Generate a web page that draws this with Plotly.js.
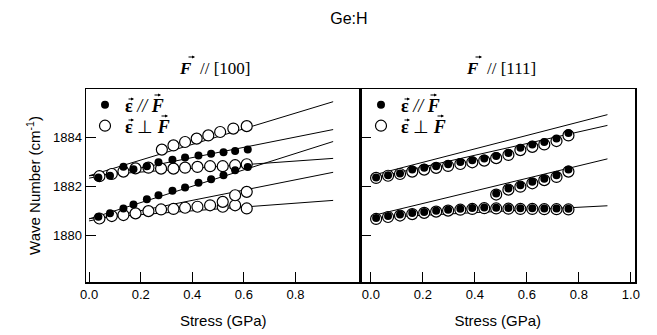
<!DOCTYPE html>
<html>
<head>
<meta charset="utf-8">
<script src="https://cdn.plot.ly/plotly-3.0.1.min.js"></script>
<style>html,body{margin:0;padding:0;background:#fff;}#chart{width:657px;height:335px;}</style>
</head>
<body>
<div id="chart"></div>
<script>
// ---------- data: F // [100] (left panel) ----------
const x100Filled = [0.036, 0.081, 0.133, 0.172, 0.224, 0.269, 0.323, 0.372, 0.424, 0.473, 0.521, 0.566, 0.615];
const x100Open   = [0.040, 0.088, 0.133, 0.180, 0.230, 0.279, 0.327, 0.372, 0.420, 0.469, 0.518, 0.566, 0.611];
const upperFilled100 = [1882.38, 1882.45, 1882.82, 1882.72, 1882.84, 1883.00, 1883.10, 1883.20, 1883.28, 1883.35, 1883.41, 1883.46, 1883.52];
const upperOpenFlat100 = [1882.43, 1882.52, 1882.62, 1882.75, 1882.78, 1882.74, 1882.74, 1882.78, 1882.81, 1882.84, 1882.84, 1882.88, 1882.92];
const xUpperOpenSteep100 = [0.282, 0.327, 0.372, 0.417, 0.462, 0.508, 0.559, 0.611];
const upperOpenSteep100 = [1883.52, 1883.69, 1883.83, 1883.97, 1884.10, 1884.24, 1884.38, 1884.48];
const lowerFilled100 = [1880.77, 1880.91, 1881.11, 1881.27, 1881.49, 1881.65, 1881.83, 1881.97, 1882.16, 1882.31, 1882.47, 1882.67, 1882.81];
const lowerOpenFlat100 = [1880.70, 1880.80, 1880.84, 1880.91, 1881.00, 1881.07, 1881.09, 1881.14, 1881.18, 1881.24, 1881.18, 1881.24, 1881.11];
const xLowerOpenMid100 = [0.518, 0.566, 0.611];
const lowerOpenMid100 = [1881.38, 1881.65, 1881.79];
// fitted lines [start, end]
const fitX100 = [0, 0.946];
const fitA100 = [1882.45, 1885.48];
const fitB100 = [1882.35, 1884.34];
const fitC100 = [1882.45, 1883.16];
const fitD100 = [1880.68, 1883.85];
const fitE100 = [1880.60, 1882.59];
const fitF100 = [1880.70, 1881.44];

// ---------- data: F // [111] (right panel) ----------
const x111 = [0.02, 0.066, 0.112, 0.159, 0.205, 0.251, 0.297, 0.344, 0.39, 0.436, 0.482, 0.529, 0.575, 0.621, 0.667, 0.714, 0.76];
const upperFilled111 = [1882.38, 1882.47, 1882.54, 1882.70, 1882.78, 1882.84, 1882.92, 1883.01, 1883.08, 1883.16, 1883.26, 1883.38, 1883.60, 1883.73, 1883.83, 1883.97, 1884.20];
const upperOpen111   = [1882.36, 1882.45, 1882.52, 1882.62, 1882.70, 1882.77, 1882.85, 1882.93, 1883.00, 1883.07, 1883.17, 1883.30, 1883.50, 1883.63, 1883.73, 1883.87, 1884.10];
const lowerFilled111 = [1880.72, 1880.80, 1880.86, 1880.92, 1880.97, 1881.02, 1881.06, 1881.10, 1881.13, 1881.15, 1881.14, 1881.13, 1881.12, 1881.12, 1881.11, 1881.11, 1881.10];
const lowerOpen111   = [1880.68, 1880.76, 1880.82, 1880.88, 1880.93, 1880.98, 1881.02, 1881.06, 1881.09, 1881.12, 1881.11, 1881.10, 1881.09, 1881.09, 1881.08, 1881.08, 1881.07];
const xRise111 = [0.482, 0.529, 0.575, 0.621, 0.667, 0.714, 0.76];
const riseFilled111 = [1881.72, 1881.93, 1882.06, 1882.20, 1882.33, 1882.47, 1882.70];
const riseOpen111   = [1881.68, 1881.88, 1882.00, 1882.14, 1882.27, 1882.40, 1882.62];
const fitX111 = [0, 0.91];
const fitU1_111 = [1882.45, 1884.95];
const fitU2_111 = [1882.33, 1884.51];
const fitR111 = [1880.80, 1883.14];
const fitL111 = [1880.72, 1881.22];

const yTicks = [1880, 1882, 1884];
const xTicks100 = [0, 0.2, 0.4, 0.6, 0.8];
const xTicks111 = [0, 0.2, 0.4, 0.6, 0.8, 1.0];

const legFilled = '<b>\u03B5</b> <i>//</i> <b><i>F</i></b>';
const legOpen = '<b>\u03B5</b> \u22A5 <b><i>F</i></b>';

function lineTrace(xs, ys, xa, ya) {
  return {x: xs, y: ys, xaxis: xa, yaxis: ya, mode: 'lines', type: 'scatter',
          line: {color: '#000', width: 1}, showlegend: false, hoverinfo: 'skip'};
}
function openTrace(xs, ys, xa, ya, show, leg) {
  return {x: xs, y: ys, xaxis: xa, yaxis: ya, mode: 'markers', type: 'scatter',
          marker: {symbol: 'circle', size: 11, color: '#fff', line: {color: '#000', width: 1.2}},
          name: legOpen, showlegend: show, legend: leg};
}
function filledTrace(xs, ys, xa, ya, show, leg) {
  return {x: xs, y: ys, xaxis: xa, yaxis: ya, mode: 'markers', type: 'scatter',
          marker: {symbol: 'circle', size: 8, color: '#000', line: {color: '#000', width: 0}},
          name: legFilled, showlegend: show, legend: leg};
}

const traces = [
  lineTrace(fitX100, fitA100, 'x', 'y'),
  lineTrace(fitX100, fitB100, 'x', 'y'),
  lineTrace(fitX100, fitC100, 'x', 'y'),
  lineTrace(fitX100, fitD100, 'x', 'y'),
  lineTrace(fitX100, fitE100, 'x', 'y'),
  lineTrace(fitX100, fitF100, 'x', 'y'),
  lineTrace(fitX111, fitU1_111, 'x2', 'y2'),
  lineTrace(fitX111, fitU2_111, 'x2', 'y2'),
  lineTrace(fitX111, fitR111, 'x2', 'y2'),
  lineTrace(fitX111, fitL111, 'x2', 'y2'),
  openTrace(x100Open, upperOpenFlat100, 'x', 'y', true, 'legend2'),
  openTrace(xUpperOpenSteep100, upperOpenSteep100, 'x', 'y', false, 'legend2'),
  openTrace(x100Open, lowerOpenFlat100, 'x', 'y', false, 'legend2'),
  openTrace(xLowerOpenMid100, lowerOpenMid100, 'x', 'y', false, 'legend2'),
  filledTrace(x100Filled, upperFilled100, 'x', 'y', true, 'legend'),
  filledTrace(x100Filled, lowerFilled100, 'x', 'y', false, 'legend'),
  openTrace(x111, upperOpen111, 'x2', 'y2', true, 'legend4'),
  openTrace(x111, lowerOpen111, 'x2', 'y2', false, 'legend4'),
  openTrace(xRise111, riseOpen111, 'x2', 'y2', false, 'legend4'),
  filledTrace(x111, upperFilled111, 'x2', 'y2', true, 'legend3'),
  filledTrace(x111, lowerFilled111, 'x2', 'y2', false, 'legend3'),
  filledTrace(xRise111, riseFilled111, 'x2', 'y2', false, 'legend3')
];

const sans = 'Liberation Sans, Arial, sans-serif';
const serif = 'Liberation Serif, Times New Roman, serif';
const axisCommon = {
  showline: true, linecolor: '#000', linewidth: 1.5, mirror: true,
  ticks: 'inside', ticklen: 10, tickwidth: 1.2, tickcolor: '#000',
  showgrid: false, zeroline: false,
  tickfont: {family: sans, size: 13, color: '#000'}
};

// plot area in pixels: left 86, top 89, width 549, height 193
const PL = 86, PT = 89, PW = 549, PH = 193;
function px2paperX(px) { return (px - PL) / PW; }
function px2paperY(py) { return (PT + PH - py) / PH; }

// one legend box per entry, placed by the pixel centre of its symbol
function legendAt(symbolX, rowY) {
  return {bgcolor: 'rgba(0,0,0,0)', borderwidth: 0, xanchor: 'left', yanchor: 'middle',
          x: px2paperX(symbolX - 20), y: px2paperY(rowY),
          font: {family: serif, size: 18, color: '#000'}, itemwidth: 30, tracegroupgap: 0};
}
function textAnn(text, px, py, xanchor, size, family) {
  return {text: text, xref: 'paper', yref: 'paper', x: px2paperX(px), y: px2paperY(py),
          xanchor: xanchor, yanchor: 'middle', showarrow: false,
          font: {family: family, size: size, color: '#000'}};
}
// small vector arrow (head at px, pointing right), drawn as an annotation arrow
function vecArrow(px, py, len) {
  return {text: '', xref: 'paper', yref: 'paper', x: px2paperX(px), y: px2paperY(py),
          showarrow: true, axref: 'pixel', ayref: 'pixel', ax: -len, ay: 0,
          arrowhead: 2, arrowsize: 0.55, arrowwidth: 1.1, arrowcolor: '#000',
          standoff: 0, startstandoff: 0};
}

const LX = 105, RX = 381, ROW1 = 105, ROW2 = 126;
const TXT = 20;   // legend text start relative to symbol centre
function legendArrows(sx) {
  return [
    vecArrow(sx + TXT + 9, ROW1 - 6, 7), vecArrow(sx + TXT + 36, ROW1 - 10, 8),
    vecArrow(sx + TXT + 9, ROW2 - 6, 7), vecArrow(sx + TXT + 43, ROW2 - 10, 8)
  ];
}
const annotations = [
  // panel titles: F⃗ // [100], F⃗ // [111]
  textAnn('<b><i>F</i></b>', 194, 68, 'right', 17, serif),
  textAnn('// [100]', 198, 68, 'left', 17, serif),
  vecArrow(195, 57, 8),
  textAnn('<b><i>F</i></b>', 481, 68, 'right', 17, serif),
  textAnn('// [111]', 485, 68, 'left', 17, serif),
  vecArrow(482, 57, 8)
].concat(legendArrows(LX), legendArrows(RX));

const layout = {
  width: 657, height: 335,
  margin: {l: PL, r: 22, t: PT, b: 53, pad: 0},
  paper_bgcolor: '#fff', plot_bgcolor: '#fff',
  title: {text: 'Ge:H', font: {family: sans, size: 16, color: '#000'},
          x: 0.531, xanchor: 'center', y: 0.945, yanchor: 'middle', yref: 'container'},
  xaxis: Object.assign({}, axisCommon, {domain: [0, 0.5], range: [-0.012, 1.052],
    tickvals: xTicks100, tickformat: '.1f', anchor: 'y',
    title: {text: 'Stress (GPa)', font: {family: sans, size: 15, color: '#000'}, standoff: 14}}),
  xaxis2: Object.assign({}, axisCommon, {domain: [0.5, 1], range: [-0.04, 1.016],
    tickvals: xTicks111, tickformat: '.1f', anchor: 'y2',
    title: {text: 'Stress (GPa)', font: {family: sans, size: 15, color: '#000'}, standoff: 14}}),
  yaxis: Object.assign({}, axisCommon, {range: [1878.1, 1886], tickvals: yTicks, anchor: 'x',
    title: {text: 'Wave Number (cm<sup>-1</sup>)', font: {family: sans, size: 15, color: '#000'}, standoff: 8}}),
  yaxis2: Object.assign({}, axisCommon, {range: [1878.1, 1886], tickvals: yTicks, anchor: 'x2',
    showticklabels: false}),
  showlegend: true,
  legend: legendAt(LX, ROW1),
  legend2: legendAt(LX, ROW2),
  legend3: legendAt(RX, ROW1),
  legend4: legendAt(RX, ROW2),
  annotations: annotations
};

Plotly.newPlot('chart', traces, layout, {displayModeBar: false, staticPlot: true});
</script>
</body>
</html>
